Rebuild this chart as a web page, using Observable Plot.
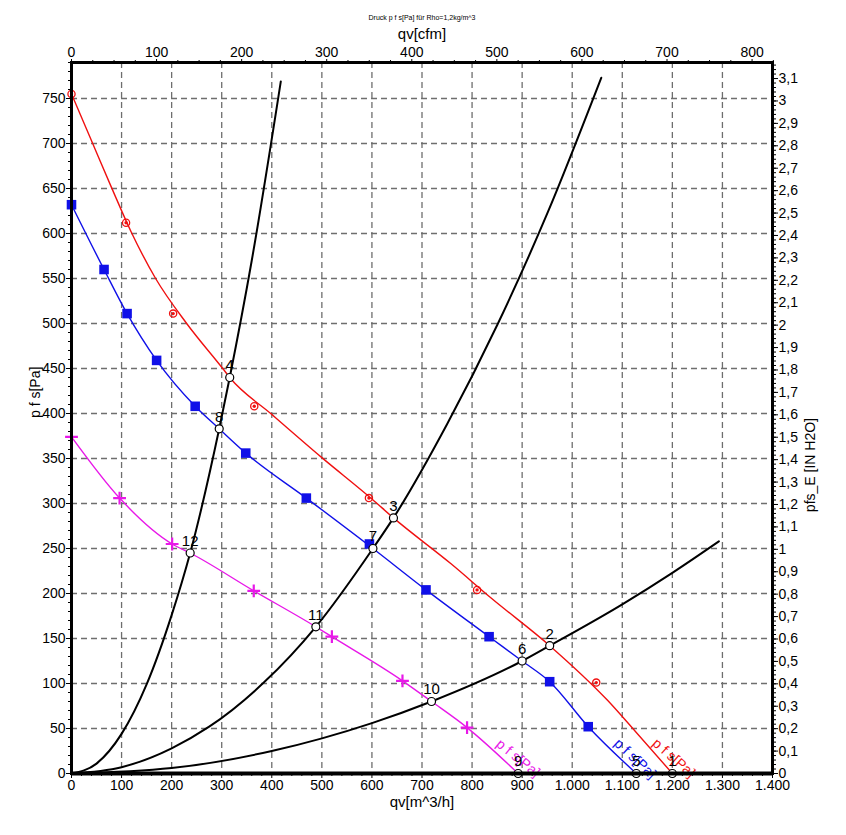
<!DOCTYPE html>
<html>
<head>
<meta charset="utf-8">
<script src="https://cdn.jsdelivr.net/npm/d3@7"></script>
<script src="https://cdn.jsdelivr.net/npm/@observablehq/plot@0.6"></script>
<style>
  html, body { margin: 0; padding: 0; background: #fff; }
</style>
</head>
<body>
<div id="chart"></div>
<script>
// ---------- DATA ----------
const titleText = "Druck p f s[Pa] für Rho=1,2kg/m^3";
const curveLabelText = "p f s[Pa]";

// axis ticks
const qTicks = [0, 100, 200, 300, 400, 500, 600, 700, 800, 900, 1000, 1100, 1200, 1300, 1400];
const paTicks = [0, 50, 100, 150, 200, 250, 300, 350, 400, 450, 500, 550, 600, 650, 700, 750];
const cfmTicks = [0, 100, 200, 300, 400, 500, 600, 700, 800];
const inh2oTicks = [0, 0.1, 0.2, 0.3, 0.4, 0.5, 0.6, 0.7, 0.8, 0.9, 1, 1.1, 1.2, 1.3, 1.4, 1.5,
  1.6, 1.7, 1.8, 1.9, 2, 2.1, 2.2, 2.3, 2.4, 2.5, 2.6, 2.7, 2.8, 2.9, 3, 3.1];
const M3H_PER_CFM = 1.69901;
const PA_PER_INH2O = 249.089;

// fan curves [qv m^3/h, p fs Pa]
const redCurve = [[0,755],[40,703],[80,651],[119,602],[168,550],[230,500],[302,450],[316,440],
  [400,399],[500,351],[600,305],[643,284],[758,233],[838,195],[955,142],[1071,81],[1121,50],[1200,0]];
const redMarkers = [[0,755],[109,612],[203,511],[365,408],[594,306],[810,204],[1048,101]];

const blueCurve = [[0,632],[65,560],[111,511],[170,459],[247,408],[295,383],[348,356],[469,306],
  [602,250],[708,204],[834,152],[900,125],[955,102],[1032,52],[1128,0]];
const blueMarkers = [[0,632],[65,560],[111,511],[170,459],[247,408],[348,356],[469,306],[595,255],
  [708,204],[834,152],[955,102],[1032,52]];

const magentaCurve = [[0,374],[96,306],[201,255],[237,245],[364,203],[488,163],[520,152],[661,103],
  [719,80],[790,51],[892,0]];
const magentaMarkers = [[0,374],[96,306],[201,255],[364,203],[520,152],[661,103],[790,51]];

// system curves
const systemA = [[0,0],[50,11],[100,44],[150,99],[200,176],[237,245],[295,383],[316,440],[360,570],[418,769]];
const systemB = [[0,0],[100,7],[200,28],[275,52],[384,101],[488,163],[602,250],[643,284],[750,388],[850,498],[950,622],[1058,773]];
const systemC = [[0,0],[200,6],[400,25],[600,56],[719,80],[900,125],[955,142],[1100,188],[1200,223],[1293,258]];

// operating points
const opLabels = ["1","2","3","4","5","6","7","8","9","10","11","12"];
const opQ = [1200, 955, 643, 316, 1128, 900, 602, 295, 892, 719, 488, 237];
const opP = [0, 142, 284, 440, 0, 125, 250, 383, 0, 80, 163, 245];

// curve label anchors [qv, p]
const redLabelAt = [1164, 36];
const blueLabelAt = [1088, 36];
const magentaLabelAt = [852, 35];

// ---------- CHART ----------
const ops = opLabels.map((t, i) => ({label: t, q: opQ[i], p: opP[i]}));
const de = d3.formatLocale({decimal: ",", thousands: ".", grouping: [3], currency: ["", "€"]});
const fmtQ = de.format(",d");
const fmtIn = de.format(".1~f");

const qMinor = d3.range(0, 1401, 20).filter(v => v % 100 !== 0);
const paMinor = d3.range(0, 791, 10).filter(v => v % 50 !== 0);
const cfmMinor = d3.range(0, 826, 25).filter(v => v % 100 !== 0).map(v => v * M3H_PER_CFM);
const inMinor = d3.range(0, 3.17, 0.02).map(v => v * PA_PER_INH2O);

const RED = "#f01010", BLUE = "#1010e8", MAG = "#e818e8";
const gridStyle = {stroke: "#6e6e6e", strokeOpacity: 1, strokeWidth: 1.3, strokeDasharray: "6,4"};
const CURVE = "monotone-x";

const chart = Plot.plot({
  width: 846,
  height: 835,
  marginLeft: 71,
  marginRight: 74,
  marginTop: 62,
  marginBottom: 62,
  x: {domain: [0, 1400]},
  y: {domain: [0, 790]},
  style: {fontFamily: "'Liberation Sans', Arial, sans-serif", fontSize: "14px", background: "#fff", color: "#000"},
  marks: [
    Plot.gridY(paTicks.filter(v => v > 0), gridStyle),
    Plot.gridX(qTicks.filter(v => v > 0 && v < 1400), gridStyle),

    // axes
    Plot.axisX(qTicks, {anchor: "bottom", tickSize: 5, tickPadding: 2, tickFormat: fmtQ, label: null, fontSize: 14}),
    Plot.axisX(qMinor, {anchor: "bottom", tickSize: 3, tickFormat: () => "", label: null}),
    Plot.axisX(cfmTicks.map(v => v * M3H_PER_CFM), {anchor: "top", tickSize: 4, tickPadding: 2,
      tickFormat: d => String(Math.round(d / M3H_PER_CFM)), label: null, fontSize: 14}),
    Plot.axisX(cfmMinor, {anchor: "top", tickSize: 3, tickFormat: () => "", label: null}),
    Plot.axisY(paTicks, {anchor: "left", tickSize: 5, tickPadding: 1, tickFormat: d => String(d), label: null, fontSize: 14}),
    Plot.axisY(paMinor, {anchor: "left", tickSize: 3, tickFormat: () => "", label: null}),
    Plot.axisY(inh2oTicks.map(v => v * PA_PER_INH2O), {anchor: "right", tickSize: 5, tickPadding: 1,
      tickFormat: d => fmtIn(Math.round(d / PA_PER_INH2O * 10) / 10), label: null, fontSize: 14}),
    Plot.axisY(inMinor, {anchor: "right", tickSize: 3, tickFormat: () => "", label: null}),

    // fan curves
    Plot.line(redCurve, {x: d => d[0], y: d => d[1], stroke: RED, strokeWidth: 1.4, curve: CURVE}),
    Plot.line(blueCurve, {x: d => d[0], y: d => d[1], stroke: BLUE, strokeWidth: 1.4, curve: CURVE}),
    Plot.line(magentaCurve, {x: d => d[0], y: d => d[1], stroke: MAG, strokeWidth: 1.4, curve: CURVE}),

    // system curves
    Plot.line(systemA, {x: d => d[0], y: d => d[1], stroke: "#000", strokeWidth: 2, curve: CURVE}),
    Plot.line(systemB, {x: d => d[0], y: d => d[1], stroke: "#000", strokeWidth: 2, curve: CURVE}),
    Plot.line(systemC, {x: d => d[0], y: d => d[1], stroke: "#000", strokeWidth: 2, curve: CURVE}),

    // markers
    Plot.dot(redMarkers, {x: d => d[0], y: d => d[1], r: 3.6, stroke: RED, strokeWidth: 1.3, fill: "none"}),
    Plot.dot(redMarkers, {x: d => d[0], y: d => d[1], r: 1.7, fill: RED}),
    Plot.dot(blueMarkers, {x: d => d[0], y: d => d[1], symbol: "square", r: 5.4, fill: BLUE, stroke: "none"}),
    Plot.dot(magentaMarkers, {x: d => d[0], y: d => d[1], symbol: "plus", r: 4.2, stroke: MAG, strokeWidth: 2.2}),

    // curve labels
    Plot.text([curveLabelText], {x: () => redLabelAt[0], y: () => redLabelAt[1], text: d => d, rotate: 41, textAnchor: "start", fill: RED, fontSize: 14}),
    Plot.text([curveLabelText], {x: () => blueLabelAt[0], y: () => blueLabelAt[1], text: d => d, rotate: 43, textAnchor: "start", fill: BLUE, fontSize: 14}),
    Plot.text([curveLabelText], {x: () => magentaLabelAt[0], y: () => magentaLabelAt[1], text: d => d, rotate: 39, textAnchor: "start", fill: MAG, fontSize: 14}),

    // operating points
    Plot.dot(ops, {x: "q", y: "p", r: 4, fill: "#fff", stroke: "#000", strokeWidth: 1.2}),
    Plot.text(ops, {x: "q", y: "p", text: "label", dy: -12, fontSize: 15, fill: "#000"}),

    // frame
    Plot.frame({stroke: "#000", strokeWidth: 3}),
    Plot.ruleY([0], {stroke: "#000", strokeWidth: 4}),

    // titles
    Plot.text([titleText], {frameAnchor: "top", dy: -45, lineAnchor: "middle", fontSize: 7, text: d => d}),
    Plot.text(["qv[cfm]"], {frameAnchor: "top", dy: -28, lineAnchor: "middle", fontSize: 15, text: d => d}),
    Plot.text(["qv[m^3/h]"], {frameAnchor: "bottom", dy: 29, lineAnchor: "middle", fontSize: 15, text: d => d}),
    Plot.text(["p f s[Pa]"], {frameAnchor: "left", dx: -36, rotate: -90, fontSize: 14, text: d => d}),
    Plot.text(["pfs_E [IN H2O]"], {frameAnchor: "right", dx: 38, rotate: -90, fontSize: 14, text: d => d})
  ]
});
document.getElementById("chart").appendChild(chart);
</script>
</body>
</html>
